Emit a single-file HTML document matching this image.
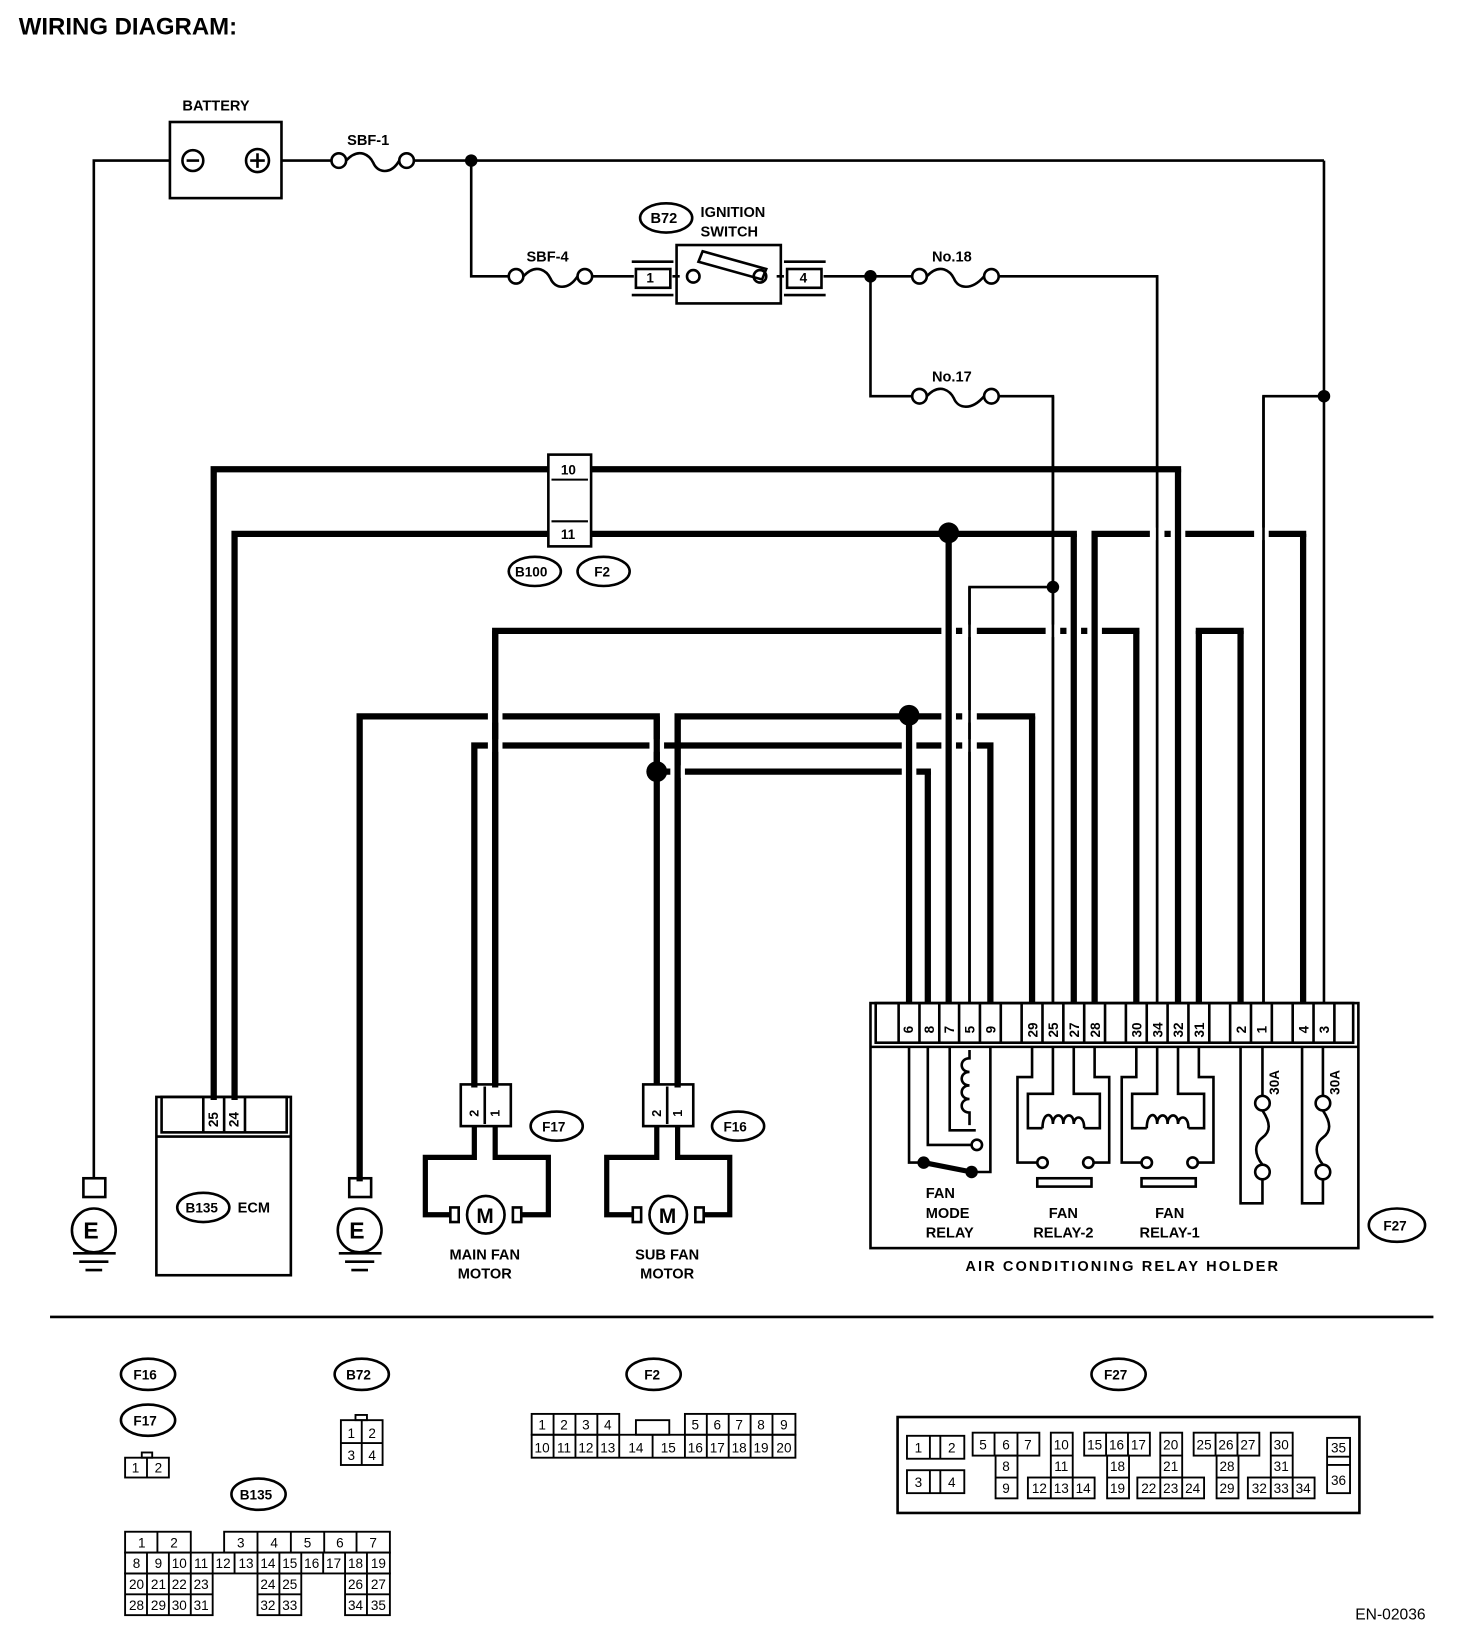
<!DOCTYPE html>
<html><head><meta charset="utf-8"><style>
html,body{margin:0;padding:0;background:#fff}
svg{display:block}
text{font-family:"Liberation Sans",sans-serif;font-weight:bold;fill:#000}
</style></head><body>
<svg width="1472" height="1636" viewBox="0 0 1412 1569" preserveAspectRatio="none" xmlns="http://www.w3.org/2000/svg">
<rect width="1412" height="1569" fill="#fff"/>
<text x="18" y="33" font-size="23">WIRING DIAGRAM:</text>

<g fill="none" stroke="#000" stroke-width="2.5">
<rect x="163" y="117" width="107" height="73"/>
<circle cx="185" cy="154" r="10"/><line x1="179" y1="154" x2="191" y2="154"/>
<circle cx="247" cy="154" r="11"/><line x1="240" y1="154" x2="254" y2="154"/><line x1="247" y1="147" x2="247" y2="161"/>
<polyline points="163,154 90,154 90,1130"/>
<line x1="270" y1="154" x2="318" y2="154"/>
<line x1="397" y1="154" x2="1270" y2="154"/>
<line x1="1270" y1="154" x2="1270" y2="962"/>
<polyline points="452,154 452,265 488,265"/>
<line x1="568" y1="265" x2="608" y2="265"/>
<line x1="645" y1="265" x2="652" y2="265"/>
<line x1="745" y1="265" x2="752" y2="265"/>
<line x1="790" y1="265" x2="875" y2="265"/>
<polyline points="958,265 1110,265 1110,962"/>
<polyline points="835,265 835,380 875,380"/>
<polyline points="958,380 1010,380 1010,962"/>
<polyline points="1010,563 930,563 930,962"/>
<polyline points="1270,380 1212,380 1212,962"/>
<circle cx="325" cy="154" r="7"/><circle cx="390" cy="154" r="7"/><path d="M332,154 C345,140 355,150 358,156 C362,166 375,168 383,154"/>
<circle cx="495" cy="265" r="7"/><circle cx="561" cy="265" r="7"/><path d="M502,265 C515,251 525,261 528,267 C532,277 545,279 554,265"/>
<circle cx="882" cy="265" r="7"/><circle cx="951" cy="265" r="7"/><path d="M889,265 C902,251 912,261 915,267 C919,277 932,279 944,265"/>
<circle cx="882" cy="380" r="7"/><circle cx="951" cy="380" r="7"/><path d="M889,380 C902,366 912,376 915,382 C919,392 932,394 944,380"/>
<rect x="649" y="235" width="100" height="56"/>
<rect x="610" y="258" width="33" height="18"/><line x1="606" y1="251" x2="646" y2="251"/><line x1="606" y1="283" x2="646" y2="283"/>
<rect x="755" y="258" width="33" height="18"/><line x1="752" y1="251" x2="792" y2="251"/><line x1="752" y1="283" x2="792" y2="283"/>
<circle cx="665" cy="265" r="6"/><circle cx="729" cy="265" r="6"/>
<path d="M674,241 L735,258 L731,268 L670,251 Z"/>
</g>
<g fill="#000">
<circle cx="452" cy="154" r="6"/><circle cx="835" cy="265" r="6"/><circle cx="1010" cy="563" r="6"/><circle cx="1270" cy="380" r="6"/>
</g>
<text x="175" y="106" font-size="14">BATTERY</text>
<text x="333" y="139" font-size="14">SBF-1</text>
<text x="505" y="251" font-size="14">SBF-4</text>
<text x="894" y="251" font-size="14">No.18</text>
<text x="894" y="366" font-size="14">No.17</text>
<ellipse cx="639" cy="209" rx="25" ry="14" fill="none" stroke="#000" stroke-width="2.5"/>
<text x="624" y="214" font-size="14">B72</text>
<text x="672" y="208" font-size="14">IGNITION</text>
<text x="672" y="227" font-size="14">SWITCH</text>
<text x="620" y="271" font-size="13" font-weight="normal">1</text>
<text x="767" y="271" font-size="13" font-weight="normal">4</text>

<g fill="none" stroke="#000" stroke-width="6" stroke-linecap="square">
<polyline points="205,1052 205,450 1130,450"/>
<polyline points="225,1052 225,512 1030,512"/>
<polyline points="1050,512 1250,512"/>
<polyline points="475,1040 475,605 1090,605"/>
<polyline points="1150,605 1190,605"/>
<polyline points="345,1130 345,687 630,687 630,740"/>
<polyline points="650,1040 650,687 990,687"/>
<polyline points="455,1040 455,715 950,715"/>
<polyline points="630,740 890,740"/>
</g>
<g fill="#fff">
<rect x="1103" y="506" width="14" height="12"/><rect x="1123" y="506" width="14" height="12"/><rect x="1203" y="506" width="14" height="12"/>
<rect x="903" y="599" width="14" height="12"/><rect x="923" y="599" width="14" height="12"/><rect x="1003" y="599" width="14" height="12"/><rect x="1023" y="599" width="14" height="12"/><rect x="1043" y="599" width="14" height="12"/>
<rect x="468" y="681" width="14" height="12"/><rect x="903" y="681" width="14" height="12"/><rect x="923" y="681" width="14" height="12"/>
<rect x="468" y="709" width="14" height="12"/><rect x="623" y="709" width="14" height="12"/><rect x="865" y="709" width="14" height="12"/><rect x="903" y="709" width="14" height="12"/><rect x="923" y="709" width="14" height="12"/>
<rect x="643" y="734" width="14" height="12"/><rect x="865" y="734" width="14" height="12"/>
</g>
<g fill="none" stroke="#000" stroke-width="6" stroke-linecap="butt">
<line x1="1130" y1="450" x2="1130" y2="962"/>
<line x1="910" y1="512" x2="910" y2="962"/>
<line x1="1030" y1="512" x2="1030" y2="962"/>
<line x1="1050" y1="512" x2="1050" y2="962"/>
<line x1="1250" y1="512" x2="1250" y2="962"/>
<line x1="1090" y1="605" x2="1090" y2="962"/>
<line x1="1150" y1="605" x2="1150" y2="962"/>
<line x1="1190" y1="605" x2="1190" y2="962"/>
<line x1="990" y1="687" x2="990" y2="962"/>
<line x1="872" y1="687" x2="872" y2="962"/>
<line x1="950" y1="715" x2="950" y2="962"/>
<line x1="890" y1="740" x2="890" y2="962"/>
<line x1="630" y1="687" x2="630" y2="1040"/>
<line x1="475" y1="605" x2="475" y2="1040"/>
<line x1="650" y1="687" x2="650" y2="1040"/>
</g>
<g fill="none" stroke="#000" stroke-width="2.5">
<line x1="1010" y1="380" x2="1010" y2="962"/><line x1="930" y1="563" x2="930" y2="962"/><line x1="1110" y1="265" x2="1110" y2="962"/><line x1="1212" y1="380" x2="1212" y2="962"/>
</g>
<g fill="#000"><circle cx="910" cy="511" r="10"/><circle cx="872" cy="686" r="10"/><circle cx="630" cy="740" r="10"/></g>
<rect x="526" y="436" width="41" height="88" fill="#fff" stroke="#000" stroke-width="2.5"/>
<line x1="529" y1="460" x2="564" y2="460" stroke="#000" stroke-width="2"/>
<line x1="529" y1="500" x2="564" y2="500" stroke="#000" stroke-width="2"/>
<text x="538" y="455" font-size="13" font-weight="normal">10</text>
<text x="538" y="517" font-size="13" font-weight="normal">11</text>
<ellipse cx="513" cy="548" rx="25" ry="14" fill="none" stroke="#000" stroke-width="2.5"/><text x="494" y="553" font-size="13">B100</text>
<ellipse cx="579" cy="548" rx="25" ry="14" fill="none" stroke="#000" stroke-width="2.5"/><text x="570" y="553" font-size="13">F2</text>

<g fill="none" stroke="#000" stroke-width="2.5">
<rect x="150" y="1052" width="129" height="171"/>
<line x1="150" y1="1090" x2="279" y2="1090"/>
<rect x="155" y="1052" width="120" height="34"/>
<line x1="195" y1="1052" x2="195" y2="1086"/><line x1="215" y1="1052" x2="215" y2="1086"/><line x1="235" y1="1052" x2="235" y2="1086"/>
<ellipse cx="195" cy="1158" rx="25" ry="14"/>
</g>
<text x="209" y="1081" font-size="13" transform="rotate(-90 209 1081)">25</text>
<text x="229" y="1081" font-size="13" transform="rotate(-90 229 1081)">24</text>
<text x="178" y="1163" font-size="13">B135</text>
<text x="228" y="1163" font-size="14">ECM</text>

<g fill="none" stroke="#000" stroke-width="2.5">
<rect x="80" y="1130" width="21" height="18"/><circle cx="90" cy="1180" r="21"/>
<line x1="70" y1="1202" x2="111" y2="1202"/><line x1="76" y1="1210" x2="104" y2="1210"/><line x1="82" y1="1218" x2="98" y2="1218"/>
<rect x="335" y="1130" width="21" height="18"/><circle cx="345" cy="1180" r="21"/>
<line x1="325" y1="1202" x2="366" y2="1202"/><line x1="331" y1="1210" x2="359" y2="1210"/><line x1="337" y1="1218" x2="353" y2="1218"/>
</g>
<text x="80" y="1188" font-size="22">E</text><text x="335" y="1188" font-size="22">E</text>

<g fill="none" stroke="#000" stroke-width="2.5">
<rect x="442" y="1040" width="48" height="40"/><line x1="465" y1="1042" x2="465" y2="1078"/>
<rect x="617" y="1040" width="48" height="40"/><line x1="640" y1="1042" x2="640" y2="1078"/>
<rect x="432" y="1158" width="8" height="14"/><rect x="492" y="1158" width="8" height="14"/>
<rect x="607" y="1158" width="8" height="14"/><rect x="667" y="1158" width="8" height="14"/>
<circle cx="466" cy="1165" r="18"/><circle cx="641" cy="1165" r="18"/>
</g>
<g fill="none" stroke="#000" stroke-width="5">
<polyline points="455,1080 455,1110 408,1110 408,1165 432,1165"/>
<polyline points="475,1080 475,1110 526,1110 526,1165 500,1165"/>
<polyline points="630,1080 630,1110 582,1110 582,1165 607,1165"/>
<polyline points="650,1080 650,1110 700,1110 700,1165 675,1165"/>
</g>
<text x="459" y="1071" font-size="12" transform="rotate(-90 459 1071)">2</text>
<text x="479" y="1071" font-size="12" transform="rotate(-90 479 1071)">1</text>
<text x="634" y="1071" font-size="12" transform="rotate(-90 634 1071)">2</text>
<text x="654" y="1071" font-size="12" transform="rotate(-90 654 1071)">1</text>
<text x="457" y="1173" font-size="20">M</text><text x="632" y="1173" font-size="20">M</text>
<ellipse cx="534" cy="1080" rx="25" ry="14" fill="none" stroke="#000" stroke-width="2.5"/><text x="520" y="1085" font-size="13">F17</text>
<ellipse cx="708" cy="1080" rx="25" ry="14" fill="none" stroke="#000" stroke-width="2.5"/><text x="694" y="1085" font-size="13">F16</text>
<text x="465" y="1208" font-size="14" text-anchor="middle">MAIN FAN</text><text x="465" y="1226" font-size="14" text-anchor="middle">MOTOR</text>
<text x="640" y="1208" font-size="14" text-anchor="middle">SUB FAN</text><text x="640" y="1226" font-size="14" text-anchor="middle">MOTOR</text>

<g fill="none" stroke="#000" stroke-width="2.5">
<rect x="835" y="962" width="468" height="235"/>
<line x1="835" y1="1004" x2="1303" y2="1004"/>
<rect x="840" y="962" width="458" height="38"/>
<path d="M862,962v38M882,962v38M901,962v38M920,962v38M940,962v38M960,962v38M980,962v38M1000,962v38M1020,962v38M1040,962v38M1060,962v38M1080,962v38M1100,962v38M1120,962v38M1140,962v38M1160,962v38M1180,962v38M1200,962v38M1220,962v38M1240,962v38M1260,962v38M1280,962v38"/>
<polyline points="872,1004 872,1115 886,1115"/>
<polyline points="890,1004 890,1098 932,1098"/><circle cx="937" cy="1098" r="5"/>
<polyline points="911,1004 911,1084 936,1084"/>
<path d="M930,1007 v8 c-10,0 -10,13 0,13 c-10,0 -10,13 0,13 c-10,0 -10,13 0,13 c-10,0 -10,13 0,13 v12"/>
<polyline points="950,1004 950,1124 932,1124"/>
<polyline points="990,1004 990,1033 976,1033 976,1115 995,1115"/><circle cx="1000" cy="1115" r="5"/>
<polyline points="1050,1004 1050,1033 1064,1033 1064,1115 1049,1115"/><circle cx="1044" cy="1115" r="5"/>
<polyline points="1010,1004 1010,1049 986,1049 986,1082 1000,1082"/>
<polyline points="1030,1004 1030,1049 1055,1049 1055,1082 1040,1082"/>
<path d="M1000,1082 c0,-16 10,-16 10,-4 c0,-10 10,-12 10,0 c0,-10 10,-12 10,0 c0,-8 10,-10 10,4"/>
<rect x="995" y="1130" width="52" height="8"/>
<polyline points="1090,1004 1090,1033 1076,1033 1076,1115 1095,1115"/><circle cx="1100" cy="1115" r="5"/>
<polyline points="1150,1004 1150,1033 1164,1033 1164,1115 1149,1115"/><circle cx="1144" cy="1115" r="5"/>
<polyline points="1110,1004 1110,1049 1086,1049 1086,1082 1100,1082"/>
<polyline points="1130,1004 1130,1049 1155,1049 1155,1082 1140,1082"/>
<path d="M1100,1082 c0,-16 10,-16 10,-4 c0,-10 10,-12 10,0 c0,-10 10,-12 10,0 c0,-8 10,-10 10,4"/>
<rect x="1095" y="1130" width="52" height="8"/>
<polyline points="1211,1004 1211,1051"/><circle cx="1211" cy="1058" r="7"/><path d="M1211,1065 c8,12 8,20 0,26 c-8,6 -8,16 0,26"/><circle cx="1211" cy="1124" r="7"/><polyline points="1211,1131 1211,1154 1190,1154 1190,1004"/>
<polyline points="1269,1004 1269,1051"/><circle cx="1269" cy="1058" r="7"/><path d="M1269,1065 c8,12 8,20 0,26 c-8,6 -8,16 0,26"/><circle cx="1269" cy="1124" r="7"/><polyline points="1269,1131 1269,1154 1249,1154 1249,1004"/>
<ellipse cx="1340" cy="1175" rx="27" ry="16"/>
</g>
<line x1="886" y1="1115" x2="932" y2="1124" stroke="#000" stroke-width="5"/>
<circle cx="886" cy="1115" r="6"/><circle cx="932" cy="1124" r="6"/>
<g font-size="13">
<text x="876" y="991" transform="rotate(-90 876 991)">6</text>
<text x="896" y="991" transform="rotate(-90 896 991)">8</text>
<text x="915" y="991" transform="rotate(-90 915 991)">7</text>
<text x="935" y="991" transform="rotate(-90 935 991)">5</text>
<text x="955" y="991" transform="rotate(-90 955 991)">9</text>
<text x="995" y="995" transform="rotate(-90 995 995)">29</text>
<text x="1015" y="995" transform="rotate(-90 1015 995)">25</text>
<text x="1035" y="995" transform="rotate(-90 1035 995)">27</text>
<text x="1055" y="995" transform="rotate(-90 1055 995)">28</text>
<text x="1095" y="995" transform="rotate(-90 1095 995)">30</text>
<text x="1115" y="995" transform="rotate(-90 1115 995)">34</text>
<text x="1135" y="995" transform="rotate(-90 1135 995)">32</text>
<text x="1155" y="995" transform="rotate(-90 1155 995)">31</text>
<text x="1195" y="991" transform="rotate(-90 1195 991)">2</text>
<text x="1215" y="991" transform="rotate(-90 1215 991)">1</text>
<text x="1255" y="991" transform="rotate(-90 1255 991)">4</text>
<text x="1275" y="991" transform="rotate(-90 1275 991)">3</text>
<text x="1227" y="1050" transform="rotate(-90 1227 1050)">30A</text>
<text x="1285" y="1050" transform="rotate(-90 1285 1050)">30A</text>
</g>
<g font-size="14">
<text x="888" y="1149">FAN</text><text x="888" y="1168">MODE</text><text x="888" y="1187">RELAY</text>
<text x="1020" y="1168" text-anchor="middle">FAN</text><text x="1020" y="1187" text-anchor="middle">RELAY-2</text>
<text x="1122" y="1168" text-anchor="middle">FAN</text><text x="1122" y="1187" text-anchor="middle">RELAY-1</text>
<text x="1077" y="1219" text-anchor="middle" letter-spacing="2">AIR CONDITIONING RELAY HOLDER</text>
<text x="1327" y="1180" font-size="13">F27</text>
</g>

<line x1="48" y1="1263" x2="1375" y2="1263" stroke="#000" stroke-width="2.5"/>

<g fill="none" stroke="#000" stroke-width="2.5">
<ellipse cx="142" cy="1318" rx="26" ry="15"/><ellipse cx="142" cy="1362" rx="26" ry="15"/>
<ellipse cx="347" cy="1318" rx="26" ry="15"/><ellipse cx="627" cy="1318" rx="26" ry="15"/>
<ellipse cx="248" cy="1433" rx="26" ry="15"/><ellipse cx="1073" cy="1318" rx="26" ry="15"/>
</g>
<g font-size="13"><text x="128" y="1323">F16</text><text x="128" y="1367">F17</text><text x="332" y="1323">B72</text><text x="618" y="1323">F2</text><text x="230" y="1438">B135</text><text x="1059" y="1323">F27</text></g>
<g fill="none" stroke="#000" stroke-width="1.8">
<rect x="120" y="1398" width="42" height="19"/><line x1="141" y1="1398" x2="141" y2="1417"/><rect x="136" y="1393" width="10" height="5"/>
<rect x="327" y="1362" width="40" height="43"/><line x1="347" y1="1362" x2="347" y2="1405"/><line x1="327" y1="1384" x2="367" y2="1384"/><rect x="341" y="1357" width="11" height="5"/>
<rect x="510" y="1356" width="84" height="20"/><rect x="657" y="1356" width="106" height="20"/><rect x="510" y="1376" width="253" height="22"/>
<path d="M531,1356v42M552,1356v42M573,1356v42M594,1376v22M626,1376v22M657,1376v22M678,1356v42M699,1356v42M720,1356v42M741,1356v42"/>
<rect x="610" y="1362" width="32" height="14"/>
<rect x="120" y="1469" width="63" height="20"/><line x1="151" y1="1469" x2="151" y2="1489"/>
<rect x="215" y="1469" width="159" height="20"/><path d="M247,1469v20M279,1469v20M311,1469v20M342,1469v20"/>
<rect x="120" y="1489" width="254" height="20"/>
<path d="M141,1489v20M162,1489v20M183,1489v20M204,1489v20M225,1489v20M247,1489v20M268,1489v20M289,1489v20M310,1489v20M331,1489v20M352,1489v20"/>
<rect x="120" y="1509" width="84" height="40"/><line x1="120" y1="1529" x2="204" y2="1529"/><path d="M141,1509v40M162,1509v40M183,1509v40"/>
<rect x="247" y="1509" width="42" height="40"/><line x1="247" y1="1529" x2="289" y2="1529"/><line x1="268" y1="1509" x2="268" y2="1549"/>
<rect x="331" y="1509" width="43" height="40"/><line x1="331" y1="1529" x2="374" y2="1529"/><line x1="352" y1="1509" x2="352" y2="1549"/>
</g>
<g font-size="13" text-anchor="middle" style="font-weight:normal">
<text x="130" y="1412" style="font-weight:normal">1</text><text x="152" y="1412" style="font-weight:normal">2</text>
<text x="337" y="1379" style="font-weight:normal">1</text><text x="357" y="1379" style="font-weight:normal">2</text><text x="337" y="1400" style="font-weight:normal">3</text><text x="357" y="1400" style="font-weight:normal">4</text>
<text x="520" y="1371" style="font-weight:normal">1</text><text x="541" y="1371" style="font-weight:normal">2</text><text x="562" y="1371" style="font-weight:normal">3</text><text x="583" y="1371" style="font-weight:normal">4</text>
<text x="667" y="1371" style="font-weight:normal">5</text><text x="688" y="1371" style="font-weight:normal">6</text><text x="709" y="1371" style="font-weight:normal">7</text><text x="730" y="1371" style="font-weight:normal">8</text><text x="752" y="1371" style="font-weight:normal">9</text>
<text x="520" y="1393" style="font-weight:normal">10</text><text x="541" y="1393" style="font-weight:normal">11</text><text x="562" y="1393" style="font-weight:normal">12</text><text x="583" y="1393" style="font-weight:normal">13</text><text x="610" y="1393" style="font-weight:normal">14</text><text x="641" y="1393" style="font-weight:normal">15</text>
<text x="667" y="1393" style="font-weight:normal">16</text><text x="688" y="1393" style="font-weight:normal">17</text><text x="709" y="1393" style="font-weight:normal">18</text><text x="730" y="1393" style="font-weight:normal">19</text><text x="752" y="1393" style="font-weight:normal">20</text>
<text x="136" y="1484" style="font-weight:normal">1</text><text x="167" y="1484" style="font-weight:normal">2</text><text x="231" y="1484" style="font-weight:normal">3</text><text x="263" y="1484" style="font-weight:normal">4</text><text x="295" y="1484" style="font-weight:normal">5</text><text x="326" y="1484" style="font-weight:normal">6</text><text x="358" y="1484" style="font-weight:normal">7</text>
<text x="131" y="1504" style="font-weight:normal">8</text><text x="152" y="1504" style="font-weight:normal">9</text><text x="172" y="1504" style="font-weight:normal">10</text><text x="193" y="1504" style="font-weight:normal">11</text><text x="214" y="1504" style="font-weight:normal">12</text><text x="236" y="1504" style="font-weight:normal">13</text><text x="257" y="1504" style="font-weight:normal">14</text><text x="278" y="1504" style="font-weight:normal">15</text><text x="299" y="1504" style="font-weight:normal">16</text><text x="320" y="1504" style="font-weight:normal">17</text><text x="341" y="1504" style="font-weight:normal">18</text><text x="363" y="1504" style="font-weight:normal">19</text>
<text x="131" y="1524" style="font-weight:normal">20</text><text x="152" y="1524" style="font-weight:normal">21</text><text x="172" y="1524" style="font-weight:normal">22</text><text x="193" y="1524" style="font-weight:normal">23</text><text x="257" y="1524" style="font-weight:normal">24</text><text x="278" y="1524" style="font-weight:normal">25</text><text x="341" y="1524" style="font-weight:normal">26</text><text x="363" y="1524" style="font-weight:normal">27</text>
<text x="131" y="1544" style="font-weight:normal">28</text><text x="152" y="1544" style="font-weight:normal">29</text><text x="172" y="1544" style="font-weight:normal">30</text><text x="193" y="1544" style="font-weight:normal">31</text><text x="257" y="1544" style="font-weight:normal">32</text><text x="278" y="1544" style="font-weight:normal">33</text><text x="341" y="1544" style="font-weight:normal">34</text><text x="363" y="1544" style="font-weight:normal">35</text>
</g>
<g fill="none" stroke="#000" stroke-width="1.8">
<rect x="861" y="1359" width="443" height="92" stroke-width="2.5"/>
<rect x="870" y="1377" width="55" height="22"/><path d="M892,1377v22M902,1377v22"/>
<rect x="870" y="1410" width="55" height="22"/><path d="M892,1410v22M902,1410v22"/>
<rect x="933" y="1374" width="64" height="22"/><path d="M954,1374v22M976,1374v22"/><rect x="955" y="1396" width="21" height="41"/><line x1="955" y1="1417" x2="976" y2="1417"/>
<rect x="1008" y="1374" width="21" height="43"/><line x1="1008" y1="1396" x2="1029" y2="1396"/><rect x="986" y="1417" width="64" height="20"/><path d="M1008,1417v20M1029,1417v20"/>
<rect x="1040" y="1374" width="63" height="22"/><path d="M1061,1374v22M1082,1374v22"/><rect x="1062" y="1396" width="21" height="41"/><line x1="1062" y1="1417" x2="1083" y2="1417"/>
<rect x="1113" y="1374" width="21" height="43"/><line x1="1113" y1="1396" x2="1134" y2="1396"/><rect x="1091" y="1417" width="64" height="20"/><path d="M1113,1417v20M1134,1417v20"/>
<rect x="1145" y="1374" width="63" height="22"/><path d="M1166,1374v22M1187,1374v22"/><rect x="1167" y="1396" width="21" height="41"/><line x1="1167" y1="1417" x2="1188" y2="1417"/>
<rect x="1219" y="1374" width="21" height="43"/><line x1="1219" y1="1396" x2="1240" y2="1396"/><rect x="1197" y="1417" width="64" height="20"/><path d="M1219,1417v20M1240,1417v20"/>
<rect x="1273" y="1379" width="22" height="53"/><path d="M1273,1397h22M1273,1405h22"/>
</g>
<g font-size="13" text-anchor="middle" style="font-weight:normal">
<text x="881" y="1393" style="font-weight:normal">1</text><text x="913" y="1393" style="font-weight:normal">2</text><text x="881" y="1426" style="font-weight:normal">3</text><text x="913" y="1426" style="font-weight:normal">4</text>
<text x="943" y="1390" style="font-weight:normal">5</text><text x="965" y="1390" style="font-weight:normal">6</text><text x="986" y="1390" style="font-weight:normal">7</text><text x="965" y="1411" style="font-weight:normal">8</text><text x="965" y="1432" style="font-weight:normal">9</text>
<text x="1018" y="1390" style="font-weight:normal">10</text><text x="1018" y="1411" style="font-weight:normal">11</text><text x="997" y="1432" style="font-weight:normal">12</text><text x="1018" y="1432" style="font-weight:normal">13</text><text x="1039" y="1432" style="font-weight:normal">14</text>
<text x="1050" y="1390" style="font-weight:normal">15</text><text x="1071" y="1390" style="font-weight:normal">16</text><text x="1092" y="1390" style="font-weight:normal">17</text><text x="1072" y="1411" style="font-weight:normal">18</text><text x="1072" y="1432" style="font-weight:normal">19</text>
<text x="1123" y="1390" style="font-weight:normal">20</text><text x="1123" y="1411" style="font-weight:normal">21</text><text x="1102" y="1432" style="font-weight:normal">22</text><text x="1123" y="1432" style="font-weight:normal">23</text><text x="1144" y="1432" style="font-weight:normal">24</text>
<text x="1155" y="1390" style="font-weight:normal">25</text><text x="1176" y="1390" style="font-weight:normal">26</text><text x="1197" y="1390" style="font-weight:normal">27</text><text x="1177" y="1411" style="font-weight:normal">28</text><text x="1177" y="1432" style="font-weight:normal">29</text>
<text x="1229" y="1390" style="font-weight:normal">30</text><text x="1229" y="1411" style="font-weight:normal">31</text><text x="1208" y="1432" style="font-weight:normal">32</text><text x="1229" y="1432" style="font-weight:normal">33</text><text x="1250" y="1432" style="font-weight:normal">34</text>
<text x="1284" y="1393" style="font-weight:normal">35</text><text x="1284" y="1424" style="font-weight:normal">36</text>
</g>
<text x="1300" y="1553" font-size="15" style="font-weight:normal">EN-02036</text>
</svg>
</body></html>
